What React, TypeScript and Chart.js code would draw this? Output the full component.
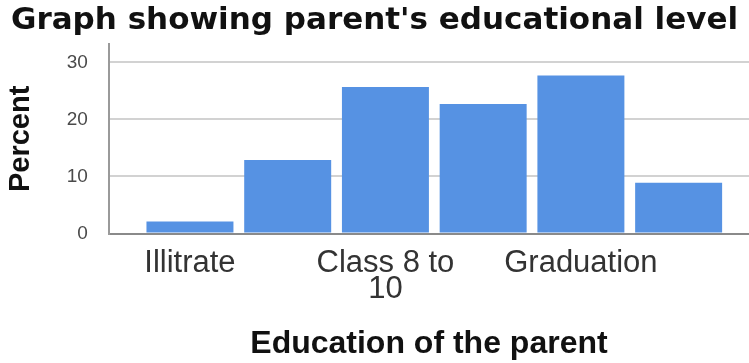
import React, { useEffect, useRef } from 'react';
import { Chart, registerables } from 'chart.js';

Chart.register(...registerables);

// Categories (only every other label is shown on the axis, as in the original)
const categories = [
  'Illitrate',
  'Class 1 to 7',
  'Class 8 to 10',
  'Class 11 to 12',
  'Graduation',
  'Post graduation',
];
const percents = [2.1, 12.9, 25.7, 22.7, 27.7, 8.9];
const yTicks = [0, 10, 20, 30];
const shownLabelIndices = [0, 2, 4];

const FONT = "'Liberation Sans', Arial, sans-serif";

function wrap(label: string, max = 10): string[] {
  const words = label.split(' ');
  const lines: string[] = [];
  let cur = '';
  for (const w of words) {
    const next = cur ? cur + ' ' + w : w;
    if (next.length > max && cur) {
      lines.push(cur);
      cur = w;
    } else {
      cur = next;
    }
  }
  if (cur) lines.push(cur);
  return lines;
}

export default function App() {
  const ref = useRef<HTMLCanvasElement | null>(null);

  useEffect(() => {
    if (!ref.current) return;
    const chart = new Chart(ref.current, {
      type: 'bar',
      data: {
        datasets: [
          {
            data: percents.map((v, i) => ({ x: i, y: v })),
            backgroundColor: '#5692E3',
            borderWidth: 0,
            barPercentage: 0.89,
            categoryPercentage: 1,
            xAxisID: 'x',
            yAxisID: 'y',
          } as any,
        ],
      },
      options: {
        animation: false,
        responsive: true,
        maintainAspectRatio: false,
        layout: { padding: 0 },
        plugins: {
          legend: { display: false },
          tooltip: { enabled: false },
          title: {
            display: true,
            text: "Graph showing parent's educational level",
            font: { family: "'DejaVu Sans', sans-serif", size: 31, weight: 'bold' },
            color: '#111',
            padding: { top: 2, bottom: 5 },
          },
        },
        scales: {
          x: {
            type: 'linear',
            position: 'bottom',
            offset: false,
            min: -0.829,
            max: 5.72,
            grid: { display: false, drawTicks: false, offset: false },
            border: { display: false },
            afterBuildTicks: (s: any) => {
              s.ticks = categories.map((_, i) => ({ value: i }));
            },
            ticks: {
              autoSkip: false,
              maxRotation: 0,
              padding: 17,
              color: '#333',
              font: { family: FONT, size: 31, lineHeight: 0.84 },
              callback: (v: any) =>
                shownLabelIndices.includes(v as number) ? wrap(categories[v as number]) : '',
            },
            title: {
              display: true,
              text: 'Education of the parent',
              color: '#111',
              font: { family: FONT, size: 32, weight: 'bold' },
              padding: { top: 5, bottom: 0 },
            },
          } as any,
          y: {
            min: 0,
            max: 33.2,
            afterBuildTicks: (s: any) => {
              s.ticks = yTicks.map((v) => ({ value: v }));
            },
            grid: {
              drawTicks: false,
              lineWidth: 2,
              color: (c: any) => (c.tick && c.tick.value === 0 ? '#8a8a8a' : '#d2d2d2'),
            },
            border: { color: '#9a9a9a', width: 2 },
            ticks: {
              padding: 21,
              color: '#4a4a4a',
              font: { family: FONT, size: 19 },
            },
            title: {
              display: true,
              text: 'Percent',
              color: '#111',
              font: { family: FONT, size: 29, weight: 'bold' },
              padding: { top: 4, bottom: 7 },
            },
          },
        },
      },
    });
    return () => chart.destroy();
  }, []);

  return (
    <div style={{ position: 'absolute', left: 0, top: 0, width: 749, height: 363 }}>
      <canvas ref={ref} />
    </div>
  );
}
